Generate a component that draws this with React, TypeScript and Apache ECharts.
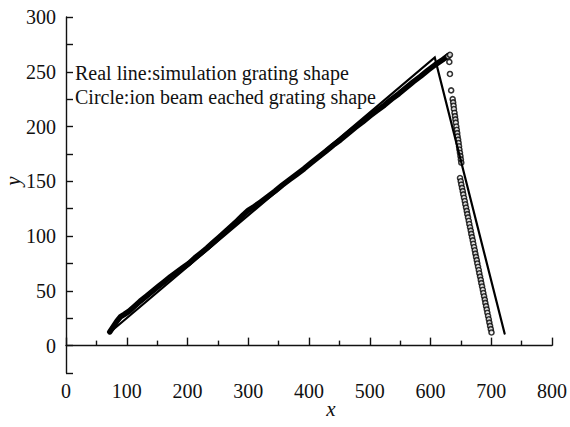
import React, { useEffect, useRef } from "react";
import * as echarts from "echarts";

// Simulation grating shape (real line)
const simX = [72, 607, 722];
const simY = [12, 263, 11];

// Ion beam etched grating shape (circles) — rising flank (dense circles forming a band)
const riseX = [72, 78, 84, 90, 96, 104, 112, 122, 132, 142, 152, 162, 172, 182, 192, 202, 212, 222, 232, 242, 252, 262, 272, 282, 292, 300, 310, 320, 332, 344, 356, 368, 380, 392, 404, 416, 428, 440, 452, 464, 476, 488, 500, 512, 524, 536, 548, 560, 572, 584, 596, 608, 620, 630];
const riseY = [12.5, 17.5, 22.5, 26.5, 28.5, 31.5, 35.5, 40.5, 45, 49.5, 54, 58.5, 63, 67, 71, 75, 80, 84.5, 89, 94, 99, 104, 109, 114, 119.5, 123.5, 127, 131, 136, 141, 146.5, 151.5, 156.5, 161.5, 167, 172.3, 177.5, 183, 188, 193.5, 199, 204, 209.5, 214.5, 219.5, 225, 230, 235.5, 241, 246, 251.5, 256.5, 261, 265];

// Falling flank (separate circles)
const fallX = [629, 632, 631, 632, 634, 636.5, 637.3, 638, 638.6, 639.5, 640.3, 641, 641.7, 642.5, 643.3, 644, 644.6, 645.5, 646.3, 647, 647.6, 648.5, 649.3, 650, 650.7,
  648.6, 649.8, 650.7, 651.9, 653.1, 654, 655.2, 656.4, 657.3, 658.5, 659.7, 660.6, 661.8, 663, 663.9, 665.1, 666.3, 667.2, 668.4, 669.6, 670.5, 671.7, 672.9, 673.8, 675, 676.2, 677.1, 678.3, 679.5, 680.4, 681.6, 682.8, 683.7, 684.9, 686.1, 687, 688.2, 689.4, 690.3, 691.5, 692.7, 693.6, 694.8, 696, 696.9, 698.1, 699.3, 700.4];
const fallY = [264, 265.5, 259, 248, 233, 225, 222, 219, 216, 212.5, 209.5, 206.5, 203.5, 200, 197, 194, 191, 188, 185, 182, 179, 176, 173, 170, 167,
  153, 150, 147, 144, 141, 138, 135, 132, 129, 126, 123, 120, 117, 114, 111, 108, 105, 102, 99, 96, 93, 90, 87, 84, 81, 78, 75, 72, 69, 66, 63, 60, 57, 54, 51, 48, 45, 42, 39, 36, 33, 30, 27, 24, 21, 18, 15, 12];

const noteLines = ["Real line:simulation grating shape", "Circle:ion beam eached grating shape"];
const xName = "x";
const yName = "y";

const serif = '"Liberation Serif", "Times New Roman", serif';

export default function App() {
  const ref = useRef<HTMLDivElement>(null);
  useEffect(() => {
    if (!ref.current) return;
    const chart = echarts.init(ref.current, undefined, { renderer: "svg" });
    const zip = (xs: number[], ys: number[]) => xs.map((x, i) => [x, ys[i]]);
    chart.setOption({
      animation: false,
      backgroundColor: "#fff",
      grid: { left: 66, right: 18, top: 17, bottom: 54 },
      xAxis: {
        type: "value",
        min: 0,
        max: 800,
        interval: 100,
        axisLine: { lineStyle: { color: "#111", width: 1.4 } },
        axisTick: { inside: true, length: 8, lineStyle: { color: "#111", width: 1.4 } },
        minorTick: { show: true, splitNumber: 2, length: 5, lineStyle: { color: "#111", width: 1.4 } },
        axisLabel: { color: "#111", fontFamily: serif, fontSize: 20, margin: 8 },
        splitLine: { show: false },
      },
      yAxis: {
        type: "value",
        min: -25,
        max: 300,
        interval: 25,
        axisLine: { show: true, lineStyle: { color: "#111", width: 1.4 } },
        axisTick: { show: true, inside: true, length: 7, lineStyle: { color: "#111", width: 1.4 } },
        axisLabel: {
          color: "#111",
          fontFamily: serif,
          fontSize: 20,
          margin: 10,
          formatter: (v: number) => (v % 50 === 0 ? String(v) : ""),
        },
        splitLine: { show: false },
      },
      graphic: [
        ...noteLines.map((t, i) => ({
          type: "text",
          x: 75,
          y: 73 + i * 24,
          style: {
            text: t,
            font: `20px ${serif}`,
            fill: "#111",
            align: "left",
            verticalAlign: "middle",
            textAlign: "left",
            textVerticalAlign: "middle",
          },
        })),
        {
          type: "text",
          x: 331,
          y: 409,
          style: {
            text: xName,
            font: `italic 21px ${serif}`,
            fill: "#111",
            align: "center",
            verticalAlign: "middle",
            textAlign: "center",
            textVerticalAlign: "middle",
          },
        },
        {
          type: "text",
          x: 13,
          y: 181,
          rotation: Math.PI / 2,
          style: {
            text: yName,
            font: `italic 21px ${serif}`,
            fill: "#111",
            align: "center",
            verticalAlign: "middle",
            textAlign: "center",
            textVerticalAlign: "middle",
          },
        },
      ],
      series: [
        {
          type: "line",
          data: zip(riseX, riseY),
          symbol: "none",
          lineStyle: { color: "#000", width: 5.5, cap: "round", join: "round" },
          z: 2,
        },
        {
          type: "scatter",
          data: zip(fallX, fallY),
          symbol: "circle",
          symbolSize: 5,
          itemStyle: { color: "#fff", borderColor: "#000", borderWidth: 1.6 },
          z: 3,
        },
        {
          type: "line",
          data: zip(simX, simY),
          symbol: "none",
          lineStyle: { color: "#000", width: 2.2, cap: "round", join: "miter" },
          z: 4,
        },
      ],
    });
    return () => chart.dispose();
  }, []);
  return <div ref={ref} style={{ position: "absolute", left: 0, top: 0, width: 570, height: 427 }} />;
}
